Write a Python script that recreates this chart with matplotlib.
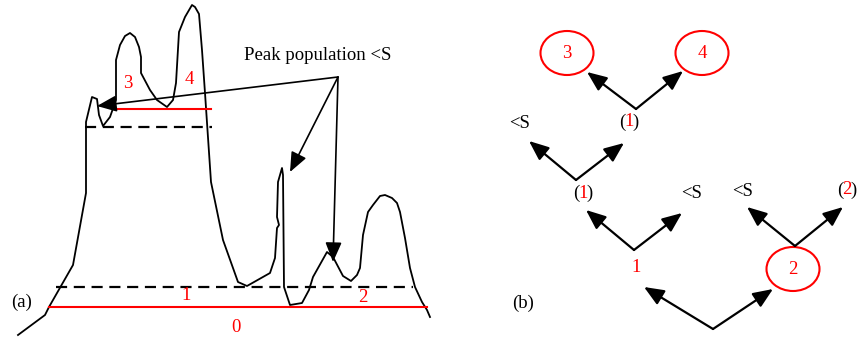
import matplotlib
matplotlib.use("Agg")
import matplotlib.pyplot as plt
from matplotlib.patches import Ellipse

plt.rcParams['font.family'] = ['Liberation Serif', 'DejaVu Serif']

# panel (a): landscape profile (pixel coords, y down)
profile_x = [18, 45, 49, 73, 86, 86, 92, 97, 99, 103, 110, 116, 116, 120, 125, 130, 135,
             139, 141, 141, 150, 157, 167, 173, 176, 179, 185, 192, 195, 199, 202, 205,
             211, 223, 238, 247, 270, 275, 277, 279, 277, 278, 282, 283, 284, 290, 302,
             309, 313, 327, 333, 343, 351, 357, 360, 363, 368, 373, 380, 385, 392, 397,
             400, 405, 410, 415, 422, 427, 430]
profile_y = [335, 315, 307, 265, 193, 122, 97, 99, 115, 126, 117, 100, 60, 45, 36, 33, 37,
             47, 57, 73, 90, 100, 107, 100, 83, 32, 17, 5, 7, 14, 50, 93,
             182, 240, 282, 286, 273, 258, 228, 225, 217, 182, 168, 175, 287, 305, 303,
             290, 277, 252, 257, 276, 281, 275, 268, 235, 212, 205, 196, 195, 198, 203,
             212, 238, 268, 287, 302, 310, 317]

# contour levels: (y, x0, x1)
red_levels = [(307, 49, 427), (109, 115, 211)]
dash_levels = [(287, 56, 413), (127, 85, 212)]

labels_a = [("3", 128, 83), ("4", 189, 80), ("1", 186, 296), ("2", 363, 298), ("0", 236, 328)]

callout_text = "Peak population <S"
callout_src = (338, 77)
callout_targets = [(97, 106), (290, 172), (333, 262)]

# panel (b): tree
ellipses = [("3", 567, 53), ("4", 702, 53), ("2", 793, 269)]
tree_vs = [  # vertex, left tip, right tip
    ((636, 109), (587, 72), (683, 71)),
    ((576, 180), (529, 141), (624, 143)),
    ((634, 250), (586, 210), (682, 213)),
    ((795, 246), (747, 207), (843, 207)),
    ((713, 329), (644, 287), (773, 289)),
]
black_texts = [("<S", 520, 124), ("<S", 692, 193), ("<S", 743, 192),
               ("(a)", 22, 302), ("(b)", 523, 303)]
paren_texts = [("1", 629, 122), ("1", 583, 193), ("2", 847, 190)]
red_texts = [("1", 636, 268)]

RED = '#ff0000'
FS = 13.5

fig = plt.figure(figsize=(8.57, 3.39), dpi=100)
ax = fig.add_axes([0, 0, 1, 1])
ax.set_xlim(0, 857)
ax.set_ylim(339, 0)
ax.axis('off')

ax.plot(profile_x, profile_y, color='black', lw=1.3)
for y, x0, x1 in red_levels:
    ax.plot([x0, x1], [y, y], color=RED, lw=1.5)
for y, x0, x1 in dash_levels:
    ax.plot([x0, x1], [y, y], color='black', lw=1.6, dashes=(5, 3))

for s, x, y in labels_a:
    ax.text(x, y, s, color=RED, fontsize=FS, ha='center', va='center')

arrow_style = dict(arrowstyle='-|>,head_length=0.6,head_width=0.25', color='black',
                   lw=1.2, mutation_scale=20, shrinkA=0, shrinkB=0)
ax.text(318, 56, callout_text, fontsize=FS, ha='center', va='center')
for tx, ty in callout_targets:
    ax.annotate('', xy=(tx, ty), xytext=callout_src, arrowprops=arrow_style)

tree_style = dict(arrow_style, lw=1.6)
for v, l, r in tree_vs:
    ax.annotate('', xy=l, xytext=v, arrowprops=tree_style)
    ax.annotate('', xy=r, xytext=v, arrowprops=tree_style)

for s, x, y in ellipses:
    ax.add_patch(Ellipse((x, y), 53, 44, fill=False, ec=RED, lw=1.5))
    ax.text(x, y, s, color=RED, fontsize=FS, ha='center', va='center')

for s, x, y in black_texts:
    ax.text(x, y, s, color='black', fontsize=FS, ha='center', va='center')
for s, x, y in paren_texts:
    ax.text(x - 7, y, "(", color='black', fontsize=FS, ha='center', va='center')
    ax.text(x, y, s, color=RED, fontsize=FS, ha='center', va='center')
    ax.text(x + 7, y, ")", color='black', fontsize=FS, ha='center', va='center')
for s, x, y in red_texts:
    ax.text(x, y, s, color=RED, fontsize=FS, ha='center', va='center')

fig.savefig('out.png', dpi=100)
